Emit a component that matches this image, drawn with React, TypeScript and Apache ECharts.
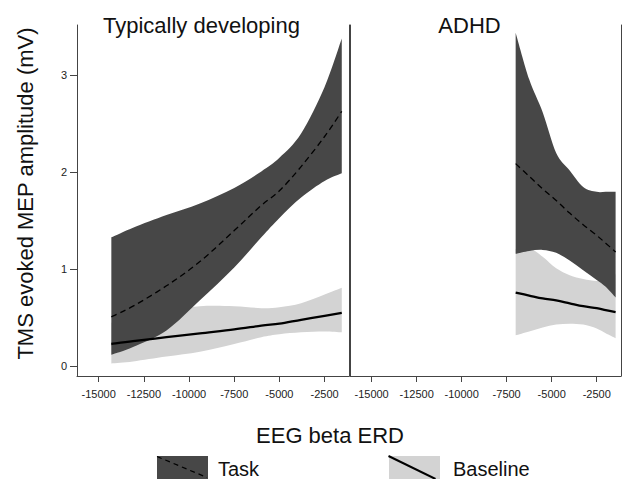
import React, { useEffect, useRef } from "react";
import * as echarts from "echarts";

// Typically developing panel
const tdX = [-14300, -13100, -11250, -9400, -7500, -6000, -5000, -3800, -2500, -1550];
const tdTaskUpper = [1.33, 1.43, 1.56, 1.68, 1.84, 2.01, 2.15, 2.4, 2.88, 3.38];
const tdTaskLower = [0.12, 0.2, 0.37, 0.68, 1.02, 1.33, 1.53, 1.74, 1.91, 1.99];
const tdTaskMean = [0.51, 0.62, 0.83, 1.08, 1.4, 1.66, 1.81, 2.06, 2.37, 2.63];
const tdBaseUpper = [0.45, 0.5, 0.57, 0.62, 0.62, 0.6, 0.61, 0.65, 0.74, 0.81];
const tdBaseLower = [0.03, 0.05, 0.1, 0.15, 0.23, 0.3, 0.33, 0.35, 0.36, 0.35];
const tdBaseMean = [0.23, 0.26, 0.3, 0.34, 0.38, 0.42, 0.44, 0.48, 0.52, 0.55];

// ADHD panel
const adX = [-7000, -6250, -5500, -4750, -4000, -3250, -2500, -2000, -1450];
const adTaskUpper = [3.44, 2.96, 2.62, 2.2, 2.02, 1.85, 1.8, 1.8, 1.8];
const adTaskLower = [1.16, 1.19, 1.2, 1.17, 1.09, 0.99, 0.89, 0.82, 0.71];
const adTaskMean = [2.09, 1.96, 1.83, 1.71, 1.58, 1.46, 1.35, 1.27, 1.18];
const adBaseUpper = [1.21, 1.22, 1.13, 1.01, 0.94, 0.9, 0.88, 0.9, 0.95];
const adBaseLower = [0.32, 0.36, 0.4, 0.43, 0.44, 0.43, 0.39, 0.34, 0.29];
const adBaseMean = [0.76, 0.73, 0.7, 0.68, 0.65, 0.62, 0.6, 0.58, 0.56];

const xTicks = [-15000, -12500, -10000, -7500, -5000, -2500];
const yTicks = [0, 1, 2, 3];
const panelTitles = ["Typically developing", "ADHD"];
const legendLabels = ["Task", "Baseline"];
const yTitle = "TMS evoked MEP amplitude (mV)";
const xTitle = "EEG beta ERD";

const FONT = "'Liberation Sans', Arial, Helvetica, sans-serif";
const DARK = "#474747";
const LIGHT = "#d3d3d3";
const LINE = "#444";

const pairs = (xs: number[], ys: number[]) => xs.map((x, i) => [x, ys[i]]);

// Catmull-Rom spline through screen points, as cubic bezier segments
function curveThrough(pts: number[][], moveFirst: boolean) {
  let d = (moveFirst ? "M" : "L") + pts[0][0].toFixed(2) + "," + pts[0][1].toFixed(2);
  const n = pts.length;
  for (let i = 0; i < n - 1; i++) {
    const p0 = pts[Math.max(0, i - 1)];
    const p1 = pts[i];
    const p2 = pts[i + 1];
    const p3 = pts[Math.min(n - 1, i + 2)];
    const c1x = p1[0] + (p2[0] - p0[0]) / 6;
    const c1y = p1[1] + (p2[1] - p0[1]) / 6;
    const c2x = p2[0] - (p3[0] - p1[0]) / 6;
    const c2y = p2[1] - (p3[1] - p1[1]) / 6;
    d +=
      "C" + c1x.toFixed(2) + "," + c1y.toFixed(2) + " " + c2x.toFixed(2) + "," + c2y.toFixed(2) + " " +
      p2[0].toFixed(2) + "," + p2[1].toFixed(2);
  }
  return d;
}

function bandSeries(idx: number, xs: number[], up: number[], lo: number[], color: string, z: number) {
  return {
    type: "custom",
    xAxisIndex: idx,
    yAxisIndex: idx,
    data: xs.map((x, i) => [x, lo[i], up[i]]),
    encode: { x: 0, y: [1, 2] },
    z,
    silent: true,
    renderItem: (params: any, api: any) => {
      if (params.dataIndex !== 0) return { type: "group", children: [] };
      const upper = xs.map((x, i) => api.coord([x, up[i]]));
      const lower = xs.map((x, i) => api.coord([x, lo[i]])).reverse();
      const d = curveThrough(upper, true) + curveThrough(lower, false) + "Z";
      return { type: "path", shape: { pathData: d }, style: { fill: color, stroke: null } };
    },
  };
}

function meanSeries(idx: number, xs: number[], ys: number[], dashed: boolean) {
  return {
    type: "custom",
    xAxisIndex: idx,
    yAxisIndex: idx,
    data: pairs(xs, ys),
    encode: { x: 0, y: 1 },
    z: 5,
    silent: true,
    renderItem: (params: any, api: any) => {
      if (params.dataIndex !== 0) return { type: "group", children: [] };
      const pts = xs.map((x, i) => api.coord([x, ys[i]]));
      return {
        type: "path",
        shape: { pathData: curveThrough(pts, true) },
        style: dashed
          ? { fill: null, stroke: "#000", lineWidth: 1.3, lineDash: [6, 4] }
          : { fill: null, stroke: "#000", lineWidth: 2.3 },
      };
    },
  };
}

function xAxisCfg(gridIndex: number) {
  return {
    type: "value",
    gridIndex,
    min: -16200,
    max: -1150,
    axisLine: { show: true, onZero: false, lineStyle: { color: LINE, width: 1 } },
    axisTick: { show: true, length: 6, customValues: xTicks, lineStyle: { color: LINE } },
    axisLabel: {
      customValues: xTicks,
      margin: 12,
      fontSize: 11,
      color: "#222",
      fontFamily: FONT,
      formatter: (v: number) => String(v),
    },
    splitLine: { show: false },
  };
}

function yAxisCfg(gridIndex: number, position: string, labels: boolean) {
  return {
    type: "value",
    gridIndex,
    position,
    min: -0.1,
    max: 3.52,
    axisLine: { show: true, onZero: false, lineStyle: { color: LINE, width: 1 } },
    axisTick: labels
      ? { show: true, length: 7, customValues: yTicks, lineStyle: { color: LINE } }
      : { show: false },
    axisLabel: labels
      ? { show: true, customValues: yTicks, margin: 10, fontSize: 11, color: "#222", fontFamily: FONT }
      : { show: false },
    splitLine: { show: false },
  };
}

function textEl(text: string, x: number, y: number, size: number, align: string, rotation = 0) {
  return {
    type: "text",
    x,
    y,
    rotation,
    silent: true,
    style: {
      text,
      fill: "#111",
      fontSize: size,
      fontFamily: FONT,
      align,
      verticalAlign: "middle",
      textAlign: align,
      textVerticalAlign: "middle",
    },
  };
}

export default function App() {
  const ref = useRef<HTMLDivElement>(null);
  useEffect(() => {
    if (!ref.current) return;
    const chart = echarts.init(ref.current, undefined, { renderer: "svg" });
    const option: any = {
      animation: false,
      backgroundColor: "#fff",
      grid: [
        { left: 77, top: 25, width: 272, height: 351 },
        { left: 350, top: 25, width: 271, height: 351 },
      ],
      xAxis: [xAxisCfg(0), xAxisCfg(1)],
      yAxis: [
        yAxisCfg(0, "left", true),
        yAxisCfg(1, "left", false),
        yAxisCfg(0, "right", false),
        yAxisCfg(1, "right", false),
      ],
      series: [
        bandSeries(0, tdX, tdBaseUpper, tdBaseLower, LIGHT, 2),
        bandSeries(0, tdX, tdTaskUpper, tdTaskLower, DARK, 3),
        meanSeries(0, tdX, tdTaskMean, true),
        meanSeries(0, tdX, tdBaseMean, false),
        bandSeries(1, adX, adBaseUpper, adBaseLower, LIGHT, 2),
        bandSeries(1, adX, adTaskUpper, adTaskLower, DARK, 3),
        meanSeries(1, adX, adTaskMean, true),
        meanSeries(1, adX, adBaseMean, false),
      ],
      graphic: [
        textEl(panelTitles[0], 103, 25, 22, "left"),
        textEl(panelTitles[1], 469.5, 25, 22, "center"),
        textEl(yTitle, 25.5, 193.5, 22, "center", Math.PI / 2),
        textEl(xTitle, 330, 435.5, 22, "center"),
        { type: "rect", shape: { x: 157, y: 456, width: 51, height: 30 }, style: { fill: DARK }, silent: true },
        {
          type: "line",
          shape: { x1: 157, y1: 456.5, x2: 207, y2: 477.5 },
          style: { stroke: "#000", lineWidth: 1.2, lineDash: [5, 4] },
          silent: true,
        },
        textEl(legendLabels[0], 218, 469, 20, "left"),
        { type: "rect", shape: { x: 389, y: 456, width: 51, height: 30 }, style: { fill: LIGHT }, silent: true },
        {
          type: "line",
          shape: { x1: 388.5, x2: 435.5, y1: 456, y2: 479 },
          style: { stroke: "#000", lineWidth: 2 },
          silent: true,
        },
        textEl(legendLabels[1], 453, 469, 20, "left"),
      ],
    };
    chart.setOption(option);
    return () => chart.dispose();
  }, []);
  return (
    <div
      ref={ref}
      style={{ position: "fixed", left: 0, top: 0, width: 622, height: 479, background: "#fff" }}
    />
  );
}
